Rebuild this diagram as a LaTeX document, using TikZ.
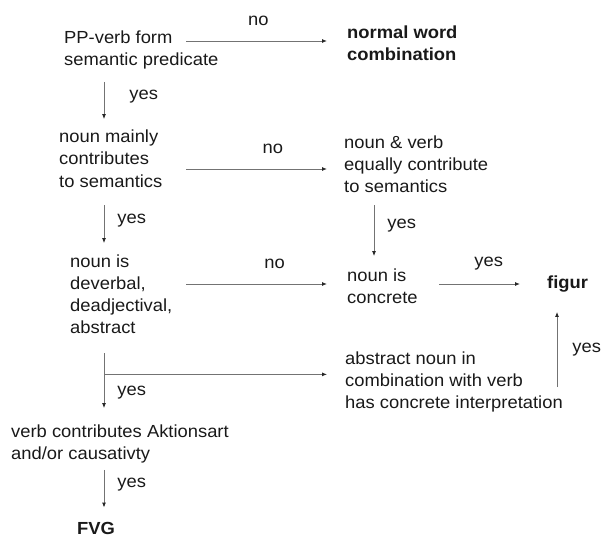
\documentclass[tikz,border=0pt]{standalone}
\usepackage{fontspec}
\setmainfont{Liberation Sans}[FakeStretch=1.05]
\usetikzlibrary{arrows.meta,calc}
\tikzset{
    txt/.style = {anchor=base west, align=left, inner sep=0pt,
        font=\fontsize{17.5}{22}\selectfont, text=black!90},
    res/.style = {txt, font=\fontsize{17.5}{22}\selectfont\bfseries},
    lab/.style = {inner sep=0pt, font=\fontsize{17.5}{22}\selectfont, text=black!90},
    arrow/.style = {draw=black!55, line width=0.9pt,
        -{Latex[length=5pt,width=4pt,black!85]}}
}
\begin{document}
\begin{tikzpicture}[x=1pt, y=-1pt]
    \useasboundingbox (0,0) rectangle (601,537);
    \coordinate (col) at (104,0);
    \coordinate (col2) at (374,0);
    % questions and results (placed by the baseline of their last line)
    \node[txt] (pp) at (64,66) {PP-verb form\\semantic predicate};
    \node[res] (nwc) at (347,61) {normal word\\combination};
    \node[txt] (nmc) at (59,187) {noun mainly\\contributes\\to semantics};
    \node[txt] (eq) at (344,193) {noun \& verb\\equally contribute\\to semantics};
    \node[txt] (dev) at (70,333) {noun is\\deverbal,\\deadjectival,\\abstract};
    \node[txt] (conc) at (347,303) {noun is\\concrete};
    \node[res] (figur) at (547,288) {figur};
    \node[txt] (abs) at (345,408) {abstract noun in\\combination with verb\\has concrete interpretation};
    \node[txt] (aks) at (11,459) {verb contributes Aktionsart\\and/or causativty};
    \node[res] (fvg) at (77,534) {FVG};
    % connector end points
    \path ([shift={(122pt,25pt)}]pp.base west) coordinate (pp-no);
    \path ([shift={(127pt,18pt)}]nmc.base west) coordinate (nmc-no);
    \path ([shift={(116pt,49pt)}]dev.base west) coordinate (dev-no);
    \path ([shift={(92pt,19pt)}]conc.base west) coordinate (conc-yes);
    \path ([shift={(212pt,21pt)}]abs.base west) coordinate (abs-yes);
    \path ([yshift=-41pt]dev.south -| col) coordinate (dev-fork);
    % no branches
    \draw[arrow, shorten >=20pt] (pp-no) -- node[lab, pos=.45, above=14.5pt] {no} (pp-no -| nwc.west);
    \draw[arrow, shorten >=17pt] (nmc-no) -- node[lab, pos=.55, above=14.5pt] {no} (nmc-no -| eq.west);
    \draw[arrow, shorten >=20pt] (dev-no) -- node[lab, pos=.55, above=14.5pt] {no} (dev-no -| conc.west);
    % yes branches
    \draw[arrow] ([yshift=-12pt]pp.south -| col) -- node[lab, pos=.4, right=25pt] {yes} ([yshift=11pt]nmc.north -| col);
    \draw[arrow] ([yshift=-18pt]nmc.south -| col) -- node[lab, pos=.4, right=13pt] {yes} ([yshift=11pt]dev.north -| col);
    \draw[arrow] ([yshift=-12pt]eq.south -| col2) -- node[lab, pos=.4, right=13pt] {yes} ([yshift=12pt]conc.north -| col2);
    \draw[arrow, shorten >=27pt] (conc-yes) -- node[lab, pos=.46, above=13.5pt] {yes} (conc-yes -| figur.west);
    \draw[arrow] ([yshift=-20pt]dev.south -| col) -- node[lab, pos=.71, right=13pt] {yes} ([yshift=16pt]aks.north -| col);
    \draw[arrow, shorten >=18pt] (dev-fork) -- (dev-fork -| abs.west);
    \draw[arrow] (abs-yes) -- node[lab, pos=.5, right=15pt] {yes} ([yshift=-20pt]figur.south -| abs-yes);
    \draw[arrow] ([yshift=-7pt]aks.south -| col) -- node[lab, pos=.4, right=13pt] {yes} ([yshift=14pt]fvg.north -| col);
\end{tikzpicture}
\end{document}
